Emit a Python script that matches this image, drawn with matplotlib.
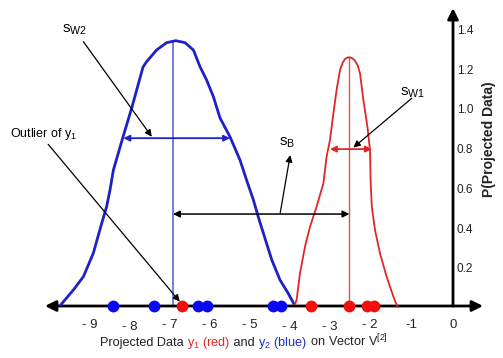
import matplotlib.pyplot as plt
from matplotlib.transforms import offset_copy

plt.rcParams['font.family'] = ['Liberation Sans', 'DejaVu Sans']
plt.rcParams['mathtext.default'] = 'regular'

# density of y2 (blue)
blue_x = [-9.81, -9.49, -9.24, -8.99, -8.78, -8.66, -8.575, -8.49, -8.25, -8.025,
          -7.75, -7.66, -7.41, -7.16, -6.93, -6.70, -6.49, -6.325, -6.16, -5.99,
          -5.825, -5.575, -5.325, -5.16, -4.99, -4.87, -4.74, -4.53, -4.325, -4.12, -3.975]
blue_y = [0.005, 0.081, 0.148, 0.267, 0.418, 0.500, 0.584, 0.685, 0.851, 1.002,
          1.203, 1.230, 1.289, 1.326, 1.336, 1.326, 1.289, 1.205, 1.138, 1.054,
          0.947, 0.852, 0.735, 0.634, 0.534, 0.450, 0.366, 0.232, 0.131, 0.064, 0.010]

# density of y1 (red)
red_x = [-3.95, -3.91, -3.825, -3.70, -3.575, -3.41, -3.24, -3.16, -3.075, -2.99,
         -2.91, -2.825, -2.76, -2.70, -2.64, -2.59, -2.52, -2.45, -2.38, -2.325,
         -2.24, -2.14, -2.075, -2.06, -2.03, -1.95, -1.825, -1.66, -1.49, -1.39]
red_y = [0.010, 0.030, 0.165, 0.299, 0.399, 0.500, 0.618, 0.752, 0.836, 0.970,
         1.088, 1.188, 1.225, 1.243, 1.251, 1.252, 1.248, 1.235, 1.210, 1.172,
         1.037, 0.903, 0.786, 0.634, 0.500, 0.383, 0.265, 0.148, 0.047, -0.004]

blue_pts = [-8.51, -7.47, -6.37, -6.15, -4.49, -4.29]
red_pts = [-6.78, -3.56, -2.59, -2.16, -1.98]

blue_mean, blue_peak = -7.0, 1.336
red_mean, red_peak = -2.59, 1.252

xticks = [-9, -8, -7, -6, -5, -4, -3, -2, -1, 0]
xtick_labels = ['- 9', '- 8', '- 7', '- 6', '- 5', '- 4', '- 3', '- 2', '-1', '0']
yticks = [0.2, 0.4, 0.6, 0.8, 1.0, 1.2, 1.4]
ytick_labels = ['0.2', '0.4', '0.6', '0.8', '1.0', '1.2', '1.4']

BLUE = '#1c22c4'
RED = '#e32424'

fig = plt.figure(figsize=(5.03, 3.58), dpi=100)
ax = fig.add_axes([0, 0, 1, 1])
# 40 px per unit on x, ~198.6 px per unit on y; y-axis sits at px 453
ax.set_xlim(-453 / 40, 50 / 40)
ax.set_ylim(-52 / 198.6, 306 / 198.6)
ax.axis('off')

# axes with arrow heads
axis_arrow = dict(lw=2, color='k', shrinkA=0, shrinkB=0, mutation_scale=16)
ax.annotate('', xy=(-10.2, 0), xytext=(0.75, 0),
            arrowprops=dict(arrowstyle='<|-|>', **axis_arrow))
ax.annotate('', xy=(0, 1.50), xytext=(0, 0),
            arrowprops=dict(arrowstyle='-|>', **axis_arrow))

# curves and means
ax.plot(blue_x, blue_y, color=BLUE, lw=2, solid_capstyle='round', zorder=3)
ax.plot(red_x, red_y, color=RED, lw=1.3, zorder=3)
ax.plot([blue_mean, blue_mean], [0, blue_peak], color='#5a6ad8', lw=1.2, zorder=2)
ax.plot([red_mean, red_mean], [0, red_peak], color='#c85a5a', lw=1, zorder=2)

# projected points
ax.plot(blue_pts, [0] * len(blue_pts), 'o', color='#0a0af0', ms=7.5, zorder=5, clip_on=False)
ax.plot(red_pts, [0] * len(red_pts), 'o', color='#f01010', ms=7.5, zorder=5, clip_on=False)

# tick labels
for v, s in zip(xticks, xtick_labels):
    dy = -0.121 if s in ('- 8', '- 4', '- 3') else -0.111
    ax.text(v + 0.1, dy, s, ha='right', va='baseline', fontsize=9.5, color='#222222')
for v, s in zip(yticks, ytick_labels):
    ax.text(0.09, v - 0.015, s, ha='left', va='center', fontsize=8.5, color='#222222')

ax.text(0.89, 0.84, 'P(Projected Data)', rotation=90, ha='center', va='center',
        fontsize=10, fontweight='bold', color='#222222')

# scatter widths
ax.annotate('', xy=(-8.24, 0.845), xytext=(-5.575, 0.845),
            arrowprops=dict(arrowstyle='<|-|>', color=BLUE, lw=1.3, shrinkA=0, shrinkB=0,
                            mutation_scale=9))
ax.annotate('', xy=(-3.075, 0.79), xytext=(-2.03, 0.79),
            arrowprops=dict(arrowstyle='<|-|>', color=RED, lw=1.3, shrinkA=0, shrinkB=0,
                            mutation_scale=9))
ax.annotate('', xy=(-7.0, 0.463), xytext=(-2.59, 0.463),
            arrowprops=dict(arrowstyle='<|-|>', color='k', lw=1.1, shrinkA=0, shrinkB=0,
                            mutation_scale=10))

# pointer arrows and labels
thin = dict(arrowstyle='-|>', color='k', lw=0.9, shrinkA=0, shrinkB=0, mutation_scale=10)
ax.annotate('', xy=(-7.53, 0.852), xytext=(-9.24, 1.331), arrowprops=thin)
ax.annotate('', xy=(-2.49, 0.798), xytext=(-1.03, 1.046), arrowprops=thin)
ax.annotate('', xy=(-4.07, 0.760), xytext=(-4.32, 0.468), arrowprops=thin)
ax.annotate('', xy=(-6.83, 0.022), xytext=(-10.12, 0.814), arrowprops=thin)

ax.text(-9.45, 1.39, '$s_{W2}$', ha='center', va='center', fontsize=11)
ax.text(-4.15, 0.82, '$s_{B}$', ha='center', va='center', fontsize=11)
ax.text(-1.0, 1.075, '$s_{W1}$', ha='center', va='center', fontsize=11)
ax.text(-11.075, 0.851, 'Outlier of $y_1$', ha='left', va='baseline', fontsize=9)

# multi-coloured axis title
parts = [('Projected Data ', '#222222'), ('$y_1$ (red)', RED), (' and ', '#222222'),
         ('$y_2$ (blue)', '#2030c0'), (' on Vector $V^{[2]}$', '#222222')]
renderer = fig.canvas.get_renderer()
dx = 0
for s, c in parts:
    tr = offset_copy(ax.transData, fig=fig, x=dx, y=0, units='dots')
    t = ax.text(-8.825, -0.2014, s, color=c, fontsize=9.1, ha='left', va='baseline',
                transform=tr)
    dx += t.get_window_extent(renderer=renderer).width

fig.savefig('out.png', dpi=100)
